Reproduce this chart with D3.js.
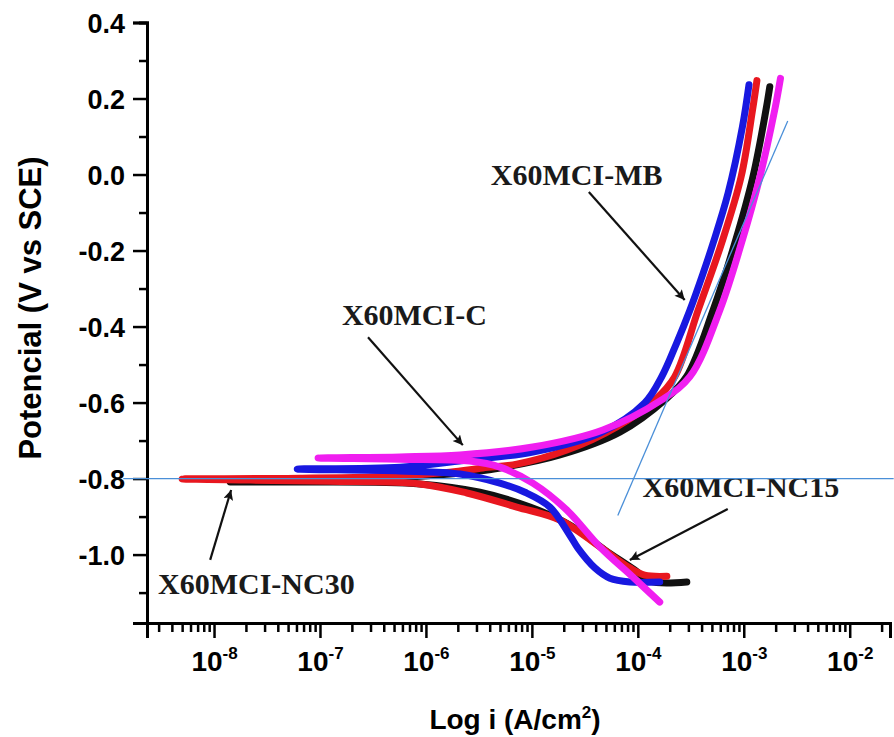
<!DOCTYPE html>
<html><head><meta charset="utf-8">
<script src="https://cdn.jsdelivr.net/npm/d3@7"></script>
<style>body{margin:0;background:#fff;overflow:hidden}</style>
</head><body><svg id="c" width="894" height="737"></svg>
<script>
// ---- data ----
const xTickExponents = [-8, -7, -6, -5, -4, -3, -2];
const yTickValues = [-1.0, -0.8, -0.6, -0.4, -0.2, 0.0, 0.2, 0.4];
const yMinorValues = [-1.1, -0.9, -0.7, -0.5, -0.3, -0.1, 0.1, 0.3];

const seriesNames = ["black", "red", "blue", "magenta"];
const seriesColors = ["#111111", "#e8171f", "#1818e0", "#f01ef0"];

const blackCurrent = [2.9e-4, 1.3e-4, 9.4e-5, 4.89e-5, 2.28e-5, 9.6e-6, 3.23e-6, 8.8e-7, 6.5e-8, 1.42e-8,
  1.92e-7, 1.68e-6, 4.99e-6, 1.84e-5, 6.76e-5, 1.8e-4, 2.88e-4, 5.13e-4, 8.22e-4, 1.22e-3, 1.62e-3, 1.76e-3];
const blackPotential = [-1.072, -1.07, -1.041, -0.988, -0.922, -0.875, -0.836, -0.814, -0.809, -0.809,
  -0.804, -0.788, -0.772, -0.738, -0.678, -0.593, -0.532, -0.357, -0.181, -0.006, 0.170, 0.231];

const redCurrent = [1.88e-4, 1.16e-4, 8.4e-5, 4.39e-5, 1.84e-5, 7.2e-6, 2.44e-6, 8.8e-7, 1.24e-7, 2.2e-8, 5.0e-9,
  6.5e-8, 5.7e-7, 1.68e-6, 3.45e-6, 7.2e-6, 2.14e-5, 6.3e-5, 1.45e-4, 2.23e-4, 3.71e-4, 6.17e-4, 9.44e-4, 1.21e-3, 1.33e-3];
const redPotential = [-1.057, -1.054, -1.035, -0.980, -0.909, -0.875, -0.838, -0.814, -0.807, -0.804, -0.801,
  -0.799, -0.793, -0.783, -0.772, -0.762, -0.725, -0.664, -0.593, -0.532, -0.357, -0.181, -0.006, 0.170, 0.247];

const blueCurrent = [1.61e-4, 8.4e-5, 5.45e-5, 3.93e-5, 2.72e-5, 2.28e-5, 1.48e-5, 8.6e-6, 4.99e-6, 2.1e-6, 5.7e-7, 6.1e-8,
  5.7e-7, 2.44e-6, 1.02e-5, 4.39e-5, 1.16e-4, 1.68e-4, 2.32e-4, 3.1e-4, 4.13e-4, 5.13e-4, 7.11e-4, 9.72e-4, 1.12e-3];
const bluePotential = [-1.072, -1.072, -1.062, -1.035, -0.983, -0.949, -0.875, -0.836, -0.812, -0.788, -0.780, -0.775,
  -0.770, -0.751, -0.730, -0.680, -0.601, -0.532, -0.444, -0.357, -0.260, -0.181, -0.049, 0.126, 0.236];

const magentaCurrent = [1.61e-4, 8.97e-5, 4.39e-5, 2.14e-5, 1.02e-5, 4.99e-6, 2.6e-6, 5.7e-7, 9.6e-8,
  5.7e-7, 2.1e-6, 1.02e-5, 4.68e-5, 1.68e-4, 3.1e-4, 5.94e-4, 9.5e-4, 1.42e-3, 1.96e-3, 2.22e-3];
const magentaPotential = [-1.125, -1.059, -0.980, -0.883, -0.812, -0.770, -0.754, -0.749, -0.746,
  -0.743, -0.738, -0.717, -0.672, -0.593, -0.532, -0.357, -0.181, -0.006, 0.170, 0.253];

const labelTexts = ["X60MCI-MB", "X60MCI-C", "X60MCI-NC15", "X60MCI-NC30"];
const labelCurrent = [4.1e-6, 1.61e-7, 1.11e-4, 2.96e-9];
const labelPotential = [-0.028, -0.396, -0.849, -1.104];
const arrowFromCurrent = [3.45e-5, 2.84e-7, 7.06e-4, 9.2e-9];
const arrowFromPotential = [-0.046, -0.428, -0.880, -1.014];
const arrowToCurrent = [2.77e-4, 2.23e-6, 8.4e-5, 1.45e-8];
const arrowToPotential = [-0.330, -0.712, -1.014, -0.830];

const tafelCurrent = [[1.39e-9, 2.6e-2], [6.47e-5, 2.6e-3]];
const tafelPotential = [[-0.8, -0.8], [-0.897, 0.141]];

const xDomain = [2.33e-9, 2.4e-2];
const yDomain = [-1.18, 0.4];

// ---- drawing ----
const svg = d3.select("#c");
const x = d3.scaleLog().domain(xDomain).range([147, 890]);
const y = d3.scaleLinear().domain(yDomain).range([623, 22.5]);

const bold = "'Liberation Sans', Arial, sans-serif";
const serif = "'Liberation Serif', 'Times New Roman', serif";

// curves
const series = [
  [blackCurrent, blackPotential],
  [redCurrent, redPotential],
  [blueCurrent, bluePotential],
  [magentaCurrent, magentaPotential]
];
const line = d3.line().x(d => x(d[0])).y(d => y(d[1])).curve(d3.curveCatmullRom.alpha(0.5));
series.forEach((s, k) => {
  const pts = s[0].map((c, i) => [c, s[1][i]]);
  svg.append("path").datum(pts).attr("d", line)
    .attr("fill", "none").attr("stroke", seriesColors[k])
    .attr("stroke-width", 7).attr("stroke-linecap", "round").attr("stroke-linejoin", "round");
});

// axes
const minorX = [];
for (let e = -9; e <= -2; e++) for (let m = 1; m <= 9; m++) {
  const v = m * Math.pow(10, e);
  if (m > 1 && v >= xDomain[0] && v <= xDomain[1]) minorX.push(v);
}
const gx = svg.append("g").attr("transform", `translate(0,${y(yDomain[0])})`);
gx.call(d3.axisBottom(x).tickValues(minorX).tickSize(9).tickFormat(""));
const gxM = svg.append("g").attr("transform", `translate(0,${y(yDomain[0])})`);
gxM.call(d3.axisBottom(x).tickValues(xTickExponents.map(e => Math.pow(10, e))).tickSize(15).tickFormat(""));
[gx, gxM].forEach(g => {
  g.select(".domain").attr("stroke", "#000").attr("stroke-width", 3);
  g.selectAll(".tick line").attr("stroke", "#000").attr("stroke-width", 2.5);
});
gxM.selectAll(".tick").each(function(d, i) {
  const t = d3.select(this).append("text")
    .attr("y", 48).attr("text-anchor", "middle").attr("fill", "#000")
    .attr("font-family", bold).attr("font-weight", "bold").attr("font-size", 28);
  t.append("tspan").text("10");
  t.append("tspan").attr("dy", -12).attr("font-size", 17).text(String(xTickExponents[i]));
});

const gy = svg.append("g").attr("transform", `translate(${x(xDomain[0])},0)`);
gy.call(d3.axisLeft(y).tickValues(yMinorValues).tickSize(8).tickFormat(""));
const gyM = svg.append("g").attr("transform", `translate(${x(xDomain[0])},0)`);
gyM.call(d3.axisLeft(y).tickValues(yTickValues).tickSize(14).tickPadding(8)
  .tickFormat(v => (Math.abs(v) < 1e-9 ? 0 : v).toFixed(1)));
[gy, gyM].forEach(g => {
  g.select(".domain").attr("stroke", "#000").attr("stroke-width", 3);
  g.selectAll(".tick line").attr("stroke", "#000").attr("stroke-width", 2.5);
});
gyM.selectAll(".tick text").attr("font-family", bold).attr("font-weight", "bold")
  .attr("font-size", 27).attr("fill", "#000").attr("dy", "0.36em");

// axis titles
svg.append("text").attr("transform", `translate(41,308) rotate(-90)`)
  .attr("text-anchor", "middle").attr("font-family", bold).attr("font-weight", "bold")
  .attr("font-size", 31).attr("fill", "#000").text("Potencial (V vs SCE)");
const xt = svg.append("text").attr("x", 515).attr("y", 729)
  .attr("text-anchor", "middle").attr("font-family", bold).attr("font-weight", "bold")
  .attr("font-size", 28).attr("fill", "#000");
xt.append("tspan").text("Log i (A/cm");
xt.append("tspan").attr("dy", -11).attr("font-size", 17).text("2");
xt.append("tspan").attr("dy", 11).text(")");

// annotations
svg.append("defs").append("marker").attr("id", "ah").attr("viewBox", "0 0 10 10")
  .attr("refX", 10).attr("refY", 5).attr("markerWidth", 6).attr("markerHeight", 4.5)
  .attr("orient", "auto").attr("markerUnits", "strokeWidth")
  .append("path").attr("d", "M0,0 L10,5 L0,10 L2,5 Z").attr("fill", "#111");
labelTexts.forEach((t, i) => {
  svg.append("line")
    .attr("x1", x(arrowFromCurrent[i])).attr("y1", y(arrowFromPotential[i]))
    .attr("x2", x(arrowToCurrent[i])).attr("y2", y(arrowToPotential[i]))
    .attr("stroke", "#111").attr("stroke-width", 2.2).attr("marker-end", "url(#ah)");
  svg.append("text").attr("x", x(labelCurrent[i])).attr("y", y(labelPotential[i]))
    .attr("font-family", serif).attr("font-weight", "bold").attr("font-size", 30)
    .attr("fill", "#1a1a1a").text(t);
});

// tafel extrapolation lines
tafelCurrent.forEach((c, i) => {
  svg.append("line")
    .attr("x1", x(c[0])).attr("y1", y(tafelPotential[i][0]))
    .attr("x2", x(c[1])).attr("y2", y(tafelPotential[i][1]))
    .attr("stroke", "#4a8fd8").attr("stroke-width", 1.3);
});
</script></body></html>
